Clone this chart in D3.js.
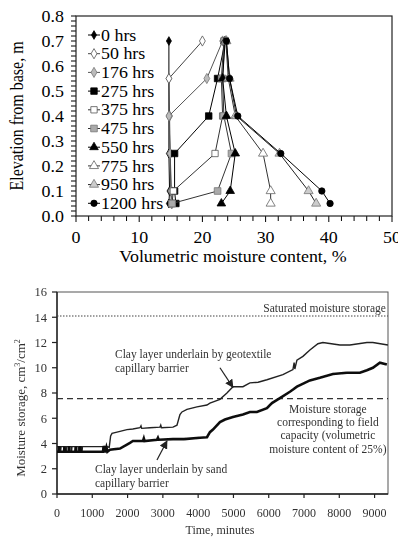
<!DOCTYPE html>
<html>
<head>
<meta charset="utf-8">
<script src="https://cdn.jsdelivr.net/npm/d3@7"></script>
<style>
  html, body { margin: 0; padding: 0; background: #fff; }
  svg { display: block; }
</style>
</head>
<body>
<svg id="chart" width="398" height="537" font-family="'Liberation Serif', 'Times New Roman', Times, serif"></svg>
<script>
// ---- Moisture profiles (top panel) ----
const elevations = [0.7, 0.55, 0.4, 0.25, 0.1, 0.05];
const profileLabels = ["0 hrs", "50 hrs", "176 hrs", "275 hrs", "375 hrs", "475 hrs", "550 hrs", "775 hrs", "950 hrs", "1200 hrs"];
const moisture0 = [14.7, 14.7, 14.7, 14.7, 14.8, 14.7];
const moisture50 = [20.0, 14.7, 14.8, 14.9, 15.0, 15.1];
const moisture176 = [23.2, 20.7, 14.7, 14.9, 15.1, 15.2];
const moisture275 = [23.6, 22.4, 21.0, 15.6, 15.6, 15.8];
const moisture375 = [23.4, 23.0, 23.2, 22.0, 15.4, 15.2];
const moisture475 = [23.5, 23.2, 23.4, 24.6, 22.4, 15.2];
const moisture550 = [23.6, 23.2, 23.8, 25.2, 24.4, 23.0];
const moisture775 = [23.7, 24.1, 25.2, 29.6, 30.8, 30.8];
const moisture950 = [23.8, 24.3, 25.4, 32.2, 36.8, 38.0];
const moisture1200 = [23.8, 24.3, 25.6, 32.4, 38.9, 40.2];
const profileTicksX = [0, 10, 20, 30, 40, 50];
const profileTicksY = [0.0, 0.1, 0.2, 0.3, 0.4, 0.5, 0.6, 0.7, 0.8];

// ---- Moisture storage time series (bottom panel) ----
const geoTime = [0, 90, 100, 115, 250, 260, 275, 400, 410, 425, 600, 610, 625, 700, 710, 720, 1300, 1320, 1340, 1380, 1400, 1480, 1520, 1560, 1700, 1983, 2150, 2351, 2380, 2400, 2635, 2918, 2940, 2960, 3286, 3400, 3484, 3541, 3683, 3966, 4249, 4334, 4618, 4816, 4986, 5269, 5467, 5700, 5949, 6402, 6686, 6720, 6740, 6799, 6969, 7167, 7394, 7535, 8017, 8300, 8782, 8952, 9377];
const geoStorage = [3.75, 3.75, 3.3, 3.75, 3.75, 3.35, 3.75, 3.75, 3.3, 3.75, 3.75, 3.3, 3.75, 3.75, 3.35, 3.75, 3.75, 3.3, 3.8, 3.35, 3.75, 3.7, 4.6, 4.8, 4.9, 5.1, 5.15, 5.25, 5.4, 5.2, 5.25, 5.3, 5.45, 5.25, 5.3, 5.45, 6.3, 6.5, 6.7, 6.9, 7.05, 7.2, 7.5, 8.0, 8.5, 8.5, 8.8, 8.85, 9.05, 9.45, 9.85, 10.4, 9.9, 10.6, 10.9, 11.4, 11.9, 12.0, 11.8, 11.8, 12.0, 12.0, 11.8];
const sandTime = [0, 50, 60, 75, 200, 210, 225, 330, 340, 355, 520, 530, 545, 650, 660, 675, 1300, 1330, 1360, 1400, 1430, 1500, 1785, 2068, 2150, 2436, 2460, 2480, 2833, 2860, 2880, 3286, 3600, 4050, 4250, 4334, 4420, 4618, 4760, 4986, 5269, 5467, 5666, 5949, 6091, 6317, 6600, 6700, 6799, 7167, 7450, 7819, 8215, 8584, 8782, 8952, 9150, 9348];
const sandStorage = [3.35, 3.35, 3.8, 3.35, 3.35, 3.75, 3.35, 3.35, 3.8, 3.35, 3.35, 3.75, 3.35, 3.35, 3.8, 3.35, 3.35, 3.8, 3.3, 3.7, 3.35, 3.5, 3.6, 4.05, 4.2, 4.2, 4.4, 4.2, 4.3, 4.45, 4.3, 4.35, 4.35, 4.45, 4.5, 4.9, 5.1, 5.7, 5.9, 6.1, 6.3, 6.5, 6.5, 6.8, 7.2, 7.6, 8.1, 8.3, 8.5, 9.0, 9.2, 9.5, 9.6, 9.6, 9.8, 10.0, 10.4, 10.25];
const storageTicksX = [0, 1000, 2000, 3000, 4000, 5000, 6000, 7000, 8000, 9000];
const storageTicksY = [0, 2, 4, 6, 8, 10, 12, 14, 16];
const saturatedStorage = 14.1;
const fieldCapacityStorage = 7.55;

const svg = d3.select("#chart");

// ================= Top panel =================
const profilePanel = svg.append("g");
const xP = d3.scaleLinear().domain([0, 50]).range([76, 392]);
const yP = d3.scaleLinear().domain([0, 0.8]).range([216, 16]);

// tick marks (every 0.02 m and every 2 %)
const yMinor = d3.range(0, 0.8001, 0.02);
profilePanel.append("g").selectAll("line").data(yMinor).join("line")
  .attr("x1", xP(0) - 5).attr("x2", xP(0))
  .attr("y1", d => yP(d)).attr("y2", d => yP(d))
  .attr("stroke", "#000").attr("stroke-width", 1);
const xMinor = d3.range(0, 50.001, 2);
profilePanel.append("g").selectAll("line").data(xMinor).join("line")
  .attr("x1", d => xP(d)).attr("x2", d => xP(d))
  .attr("y1", yP(0)).attr("y2", d => yP(0) + (d % 10 === 0 ? 6 : 5))
  .attr("stroke", "#000").attr("stroke-width", 1);

// frame
profilePanel.append("rect")
  .attr("x", xP(0)).attr("y", yP(0.8))
  .attr("width", xP(50) - xP(0)).attr("height", yP(0) - yP(0.8))
  .attr("fill", "none").attr("stroke", "#222").attr("stroke-width", 1.2);

// text drawn slightly wide, like the original typesetting
const wide = (sel, x, y) => sel.attr("transform", `translate(${x},${y}) scale(1.12,1)`);

profilePanel.append("g").selectAll("text").data(profileTicksY).join("text")
  .each(function (d) { wide(d3.select(this), xP(0) - 12, yP(d)); })
  .attr("dy", "0.35em").attr("text-anchor", "end")
  .attr("font-size", 16).attr("fill", "#000")
  .text(d => d.toFixed(1));
profilePanel.append("g").selectAll("text").data(profileTicksX).join("text")
  .each(function (d) { wide(d3.select(this), xP(d), 243); })
  .attr("text-anchor", "middle")
  .attr("font-size", 16).attr("fill", "#000")
  .text(d => d);
wide(profilePanel.append("text"), 233, 262)
  .attr("text-anchor", "middle")
  .attr("font-size", 16).text("Volumetric moisture content, %");
profilePanel.append("text")
  .attr("transform", "translate(23,116) rotate(-90) scale(1,1.12)")
  .attr("text-anchor", "middle")
  .attr("font-size", 16).text("Elevation from base, m");

const profileValues = [moisture0, moisture50, moisture176, moisture275, moisture375, moisture475, moisture550, moisture775, moisture950, moisture1200];
const styles = [
  { sym: d3.symbolDiamond, size: 22, fill: "#000", stroke: "#000", line: "#000" },
  { sym: d3.symbolDiamond, size: 30, fill: "#fff", stroke: "#555", line: "#444" },
  { sym: d3.symbolDiamond, size: 30, fill: "#bbb", stroke: "#777", line: "#555" },
  { sym: d3.symbolSquare, size: 42, fill: "#000", stroke: "#000", line: "#000" },
  { sym: d3.symbolSquare, size: 40, fill: "#fff", stroke: "#555", line: "#333" },
  { sym: d3.symbolSquare, size: 44, fill: "#aaa", stroke: "#777", line: "#333" },
  { sym: d3.symbolTriangle, size: 32, fill: "#000", stroke: "#000", line: "#000" },
  { sym: d3.symbolTriangle, size: 36, fill: "#fff", stroke: "#666", line: "#333" },
  { sym: d3.symbolTriangle, size: 36, fill: "#ccc", stroke: "#777", line: "#222" },
  { sym: d3.symbolCircle, size: 32, fill: "#000", stroke: "#000", line: "#000" }
];

const lineP = d3.line().x(d => xP(d[0])).y(d => yP(d[1]));
profileValues.forEach((vals, i) => {
  const pts = vals.map((v, k) => [v, elevations[k]]);
  const st = styles[i];
  const g = profilePanel.append("g");
  g.append("path").attr("d", lineP(pts)).attr("fill", "none")
    .attr("stroke", st.line).attr("stroke-width", 1);
  g.selectAll("path.m").data(pts).join("path").attr("class", "m")
    .attr("transform", d => `translate(${xP(d[0])},${yP(d[1])})`)
    .attr("d", d3.symbol(st.sym, st.size))
    .attr("fill", st.fill).attr("stroke", st.stroke).attr("stroke-width", 0.8);
});

// legend
const leg = profilePanel.append("g");
profileLabels.forEach((lab, i) => {
  const y = 35 + i * 18.7;
  const st = styles[i];
  leg.append("line").attr("x1", 88).attr("x2", 100).attr("y1", y).attr("y2", y)
    .attr("stroke", st.line).attr("stroke-width", 1);
  leg.append("path").attr("transform", `translate(94,${y})`)
    .attr("d", d3.symbol(st.sym, st.size))
    .attr("fill", st.fill).attr("stroke", st.stroke).attr("stroke-width", 0.8);
  wide(leg.append("text"), 101, y).attr("dy", "0.35em")
    .attr("font-size", 16).text(lab);
});

// ================= Bottom panel =================
const defs = svg.append("defs");
defs.append("filter").attr("id", "soft")
  .append("feGaussianBlur").attr("stdDeviation", 0.45);
defs.append("marker").attr("id", "arrow")
  .attr("viewBox", "0 0 10 10").attr("refX", 9).attr("refY", 5)
  .attr("markerWidth", 7).attr("markerHeight", 7).attr("orient", "auto")
  .append("path").attr("d", "M0,0 L10,5 L0,10 z").attr("fill", "#222");

const storagePanel = svg.append("g").attr("filter", "url(#soft)");
const xS = d3.scaleLinear().domain([0, 9380]).range([57, 388]);
const yS = d3.scaleLinear().domain([0, 16]).range([494, 292]);
const ink = "#333";

storagePanel.append("rect")
  .attr("x", xS(0)).attr("y", yS(16))
  .attr("width", xS(9380) - xS(0)).attr("height", yS(0) - yS(16))
  .attr("fill", "none").attr("stroke", "#555").attr("stroke-width", 1);
storagePanel.append("line").attr("x1", xS(0)).attr("x2", xS(0)).attr("y1", yS(0)).attr("y2", yS(16))
  .attr("stroke", "#222").attr("stroke-width", 1.4);
storagePanel.append("line").attr("x1", xS(0)).attr("x2", xS(9380)).attr("y1", yS(0)).attr("y2", yS(0))
  .attr("stroke", "#222").attr("stroke-width", 1.4);

storagePanel.append("g").selectAll("line").data(storageTicksY).join("line")
  .attr("x1", xS(0) - 5).attr("x2", xS(0)).attr("y1", d => yS(d)).attr("y2", d => yS(d))
  .attr("stroke", "#222").attr("stroke-width", 1.2);
storagePanel.append("g").selectAll("line").data(storageTicksX).join("line")
  .attr("x1", d => xS(d)).attr("x2", d => xS(d)).attr("y1", yS(0)).attr("y2", yS(0) + 4)
  .attr("stroke", "#222").attr("stroke-width", 1.2);

storagePanel.append("g").selectAll("text").data(storageTicksY).join("text")
  .attr("x", xS(0) - 10).attr("y", d => yS(d)).attr("dy", "0.35em")
  .attr("text-anchor", "end").attr("font-size", 12.5).attr("fill", ink).text(d => d);
storagePanel.append("g").selectAll("text").data(storageTicksX).join("text")
  .attr("x", d => xS(d)).attr("y", 517).attr("text-anchor", "middle")
  .attr("font-size", 12).attr("fill", ink).text(d => d);
storagePanel.append("text").attr("x", 220).attr("y", 534).attr("text-anchor", "middle")
  .attr("font-size", 12).attr("fill", ink).text("Time, minutes");

const yl = storagePanel.append("text").attr("transform", "translate(25,408) rotate(-90)")
  .attr("text-anchor", "middle").attr("font-size", 13).attr("fill", ink);
yl.append("tspan").text("Moisture storage, cm");
yl.append("tspan").attr("font-size", 8).attr("dy", -5).text("3");
yl.append("tspan").attr("dy", 5).text("/cm");
yl.append("tspan").attr("font-size", 8).attr("dy", -5).text("2");

// reference levels
storagePanel.append("line").attr("x1", xS(0)).attr("x2", xS(9380))
  .attr("y1", yS(saturatedStorage)).attr("y2", yS(saturatedStorage))
  .attr("stroke", "#444").attr("stroke-width", 1.2).attr("stroke-dasharray", "1.5,1.5");
storagePanel.append("line").attr("x1", xS(0)).attr("x2", xS(9380))
  .attr("y1", yS(fieldCapacityStorage)).attr("y2", yS(fieldCapacityStorage))
  .attr("stroke", "#333").attr("stroke-width", 1.3).attr("stroke-dasharray", "6,4");

// series
const lineS = d3.line().x(d => xS(d[0])).y(d => yS(d[1]));
const geoPts = geoTime.map((t, i) => [t, geoStorage[i]]);
const sandPts = sandTime.map((t, i) => [t, sandStorage[i]]);
storagePanel.append("path").attr("d", lineS(geoPts)).attr("fill", "none")
  .attr("stroke", "#222").attr("stroke-width", 1.4);
storagePanel.append("path").attr("d", lineS(sandPts)).attr("fill", "none")
  .attr("stroke", "#111").attr("stroke-width", 2.6);

// annotations
const ann = (t, v, s, anchor) => storagePanel.append("text")
  .attr("x", xS(t)).attr("y", yS(v)).attr("text-anchor", anchor || "start")
  .attr("font-size", 11.5).attr("fill", ink).text(s);
ann(9320, 14.45, "Saturated moisture storage", "end");
ann(1643, 10.8, "Clay layer underlain by geotextile");
ann(1643, 9.7, "capillary barrier");
ann(1076, 1.67, "Clay layer underlain by sand");
ann(1076, 0.56, "capillary barrier");
ann(7677, 6.43, "Moisture storage", "middle");
ann(7677, 5.4, "corresponding to field", "middle");
ann(7677, 4.37, "capacity (volumetric", "middle");
ann(7677, 3.25, "moisture content of 25%)", "middle");

storagePanel.append("line").attr("x1", xS(4618)).attr("y1", yS(10.0))
  .attr("x2", xS(4986)).attr("y2", yS(8.45))
  .attr("stroke", "#222").attr("stroke-width", 1.2).attr("marker-end", "url(#arrow)");
storagePanel.append("line").attr("x1", xS(2833)).attr("y1", yS(2.7))
  .attr("x2", xS(3116)).attr("y2", yS(4.2))
  .attr("stroke", "#222").attr("stroke-width", 1.2).attr("marker-end", "url(#arrow)");
</script>
</body>
</html>
